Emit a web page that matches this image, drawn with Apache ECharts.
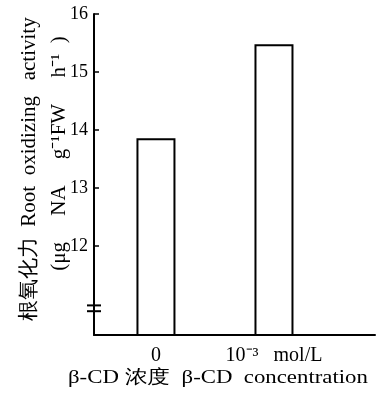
<!DOCTYPE html>
<html>
<head>
<meta charset="utf-8">
<script src="https://cdn.jsdelivr.net/npm/echarts@6/dist/echarts.min.js"></script>
<style>
  html, body { margin:0; padding:0; background:#fff; }
  #chart { width:385px; height:394px; }
</style>
</head>
<body>
<div id="chart"></div>
<script>
var categories = ['0', '10\u207B\u00B3   mol/L'];
var values = [13.86, 15.48];
var yTicks = [12, 13, 14, 15, 16];
var breakAt = [10.98, 10.88];

(function(){
  var serif = 'Liberation Serif';
  var ink = '#000';
  var el = document.getElementById('chart');
  var c = echarts.init(el, null, {renderer:'canvas'});
  var points = categories.map(function(name, i){ return [i, values[i]]; });
  c.setOption({
    animation:false,
    grid:{left:94, right:10, top:14, bottom:59, outerBoundsMode:'none', containLabel:false},
    xAxis:{
      type:'value', min:-0.525, max:1.856,
      axisLine:{show:true, onZero:false, lineStyle:{color:ink, width:2}},
      axisTick:{show:false},
      splitLine:{show:false},
      axisLabel:{
        customValues:categories.map(function(n, i){ return i; }),
        margin:11, color:ink, fontFamily:serif, fontSize:20,
        formatter:function(v){ return categories[Math.round(v)]; }
      }
    },
    yAxis:{
      type:'value', min:10.47, max:16,
      name:'  根氧化力  Root  oxidizing   activity\n        (\u03BCg     NA     g\u207B\u00B9FW     h\u207B\u00B9  )',
      nameLocation:'middle', nameGap:20, nameRotate:90, nameMoveOverlap:false,
      nameTextStyle:{fontFamily:serif, fontSize:21, color:ink, lineHeight:30, align:'center'},
      axisLine:{show:true, onZero:false, lineStyle:{color:ink, width:2}},
      axisTick:{show:true, inside:true, length:5, customValues:yTicks, lineStyle:{color:ink, width:1.5}},
      splitLine:{show:false},
      axisLabel:{customValues:yTicks, margin:6, color:ink, fontFamily:serif, fontSize:18}
    },
    series:[{
      type:'bar', data:points, barWidth:39,
      itemStyle:{color:'#fff', borderColor:ink, borderWidth:2}
    }]
  });
  var g = breakAt.map(function(v){
    var y = c.convertToPixel({yAxisIndex:0}, v);
    return {type:'line', shape:{x1:87, y1:y, x2:101, y2:y}, style:{stroke:ink, lineWidth:2}};
  });
  g.push({
    type:'text', x:68, y:369, scaleX:1.2,
    style:{text:'\u03B2-CD 浓度  \u03B2-CD  concentration', font:'19px "Liberation Serif"', fill:ink}
  });
  c.setOption({graphic:g});
})();
</script>
</body>
</html>
